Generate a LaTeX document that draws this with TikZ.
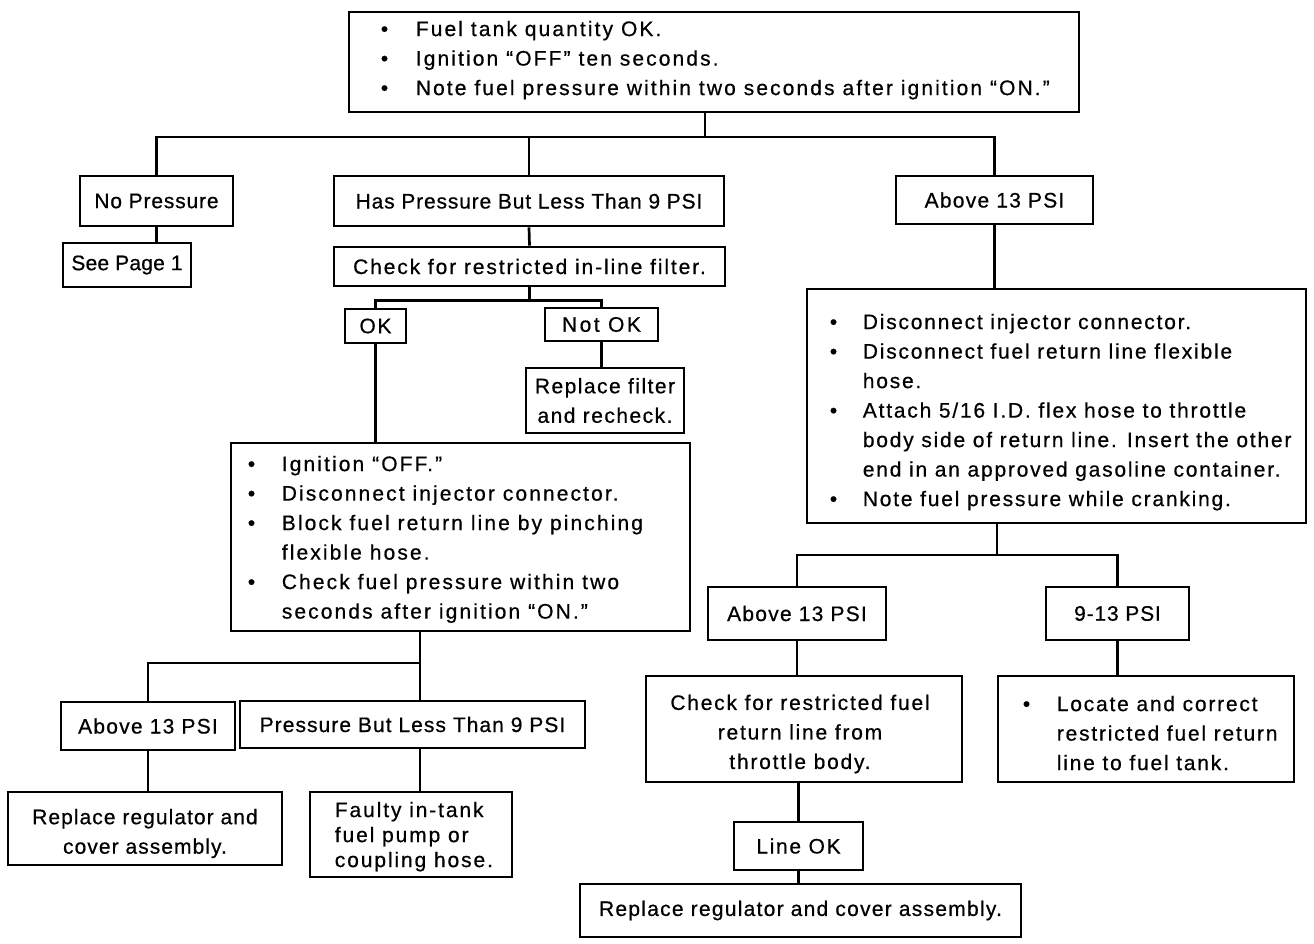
\documentclass[tikz,border=0pt]{standalone}
\usepackage{fontspec}
\setmainfont{Liberation Sans}[FakeBold=0.6]
\newcommand\bitem[2][34pt]{\makebox[#1][l]{\textbullet}#2}
\newcommand\cont[2][34pt]{\hspace*{#1}#2}
\begin{document}
\begin{tikzpicture}[x=1pt,y=-1pt,
  tracking/.style={font=\fontsize{21}{29.5}\selectfont\addfontfeature{LetterSpace=#1}},
  frame/.style={draw, line width=2.7pt, inner sep=0pt},
  box/.style={frame, align=center, tracking=7},
  txt/.style={inner sep=0pt, align=left, tracking=7},
  wire/.style={line width=2.7pt},
]
\useasboundingbox (0,0) rectangle (1314,943);

% ---- top level ----
\node[frame, minimum width=730pt, minimum height=100pt] (top) at (714,62) {};
\node[txt, tracking=10, anchor=north west] (toptxt) at ([xshift=33pt,yshift=-10pt]top.north west)
  {\bitem[35pt]{Fuel tank quantity OK.}\\
   \bitem[35pt]{Ignition ``OFF'' ten seconds.}\\
   \bitem[35pt]{Note fuel pressure within two seconds after ignition ``ON.''}};

\node[box, tracking=4, minimum width=153pt, minimum height=50pt] (np) at (156.5,201) {No Pressure};
\node[box, tracking=1, minimum width=128pt, minimum height=44pt] (sp) at (127,265) {See Page 1};
\node[box, tracking=4, minimum width=390pt, minimum height=50pt] (hp) at (529,201) {Has Pressure But Less Than 9 PSI};
\node[box, tracking=6, minimum width=197pt, minimum height=48pt] (ab) at (994.5,200) {Above 13 PSI};

% ---- low pressure branch ----
\node[box, tracking=9, minimum width=391pt, minimum height=39pt] (cf) at (529.5,266.5) {Check for restricted in-line filter.};
\node[box, tracking=8, minimum width=61pt, minimum height=34pt] (ok) at (375.5,326) {OK};
\node[box, tracking=12, minimum width=113pt, minimum height=33pt] (nok) at (601.5,324.5) {Not OK};
\node[box, minimum width=158pt, minimum height=65pt] (rf) at (605,400.5) {Replace filter\\and recheck.};

\node[frame, minimum width=459pt, minimum height=188pt] (ign) at (460.5,537) {};
\node[txt, tracking=10, anchor=north west] (igntxt) at ([xshift=18pt,yshift=-14pt]ign.north west)
  {\bitem{Ignition ``OFF.''}\\
   \bitem{Disconnect injector connector.}\\
   \bitem{Block fuel return line by pinching}\\
   \cont{flexible hose.}\\
   \bitem{Check fuel pressure within two}\\
   \cont{seconds after ignition ``ON.''}};

\coordinate (lb) at (420,663);
\node[box, tracking=6, minimum width=174pt, minimum height=48pt] (al) at (148,726) {Above 13 PSI};
\node[box, tracking=5, minimum width=345pt, minimum height=47pt] (pl) at (412.5,724.5) {Pressure But Less Than 9 PSI};
\node[frame, minimum width=274pt, minimum height=73pt] (rl) at (145,828.5) {};
\node[txt, tracking=5, align=center] (rltxt) at ([yshift=-5pt]rl.center)
  {Replace regulator and\\cover assembly.};
\node[frame, minimum width=202pt, minimum height=85pt] (fa) at (411,834.5) {};
\node[txt, anchor=north west, font=\fontsize{21}{25}\selectfont\addfontfeature{LetterSpace=9}]
  (fatxt) at ([xshift=26pt,yshift=-11pt]fa.north west)
  {Faulty in-tank\\fuel pump or\\coupling hose.};

% ---- high pressure branch ----
\node[frame, minimum width=499pt, minimum height=234pt] (big) at (1056.5,406) {};
\node[txt, tracking=8.5, anchor=north west] (bigtxt) at ([xshift=24pt,yshift=-26pt]big.north west)
  {\bitem[33pt]{Disconnect injector connector.}\\
   \bitem[33pt]{Disconnect fuel return line flexible}\\
   \cont[33pt]{hose.}\\
   \bitem[33pt]{Attach 5/16 I.D. flex hose to throttle}\\
   \cont[33pt]{body side of return line. Insert the other}\\
   \cont[33pt]{end in an approved gasoline container.}\\
   \bitem[33pt]{Note fuel pressure while cranking.}};

\coordinate (rb) at (997,555);
\node[box, tracking=6, minimum width=178pt, minimum height=53pt] (ar) at (797,613.5) {Above 13 PSI};
\node[box, tracking=4, minimum width=143pt, minimum height=53pt] (nt) at (1117.5,613.5) {9-13 PSI};
\node[frame, minimum width=316pt, minimum height=106pt] (cr) at (804,729) {};
\node[txt, tracking=8.5, align=center] (crtxt) at ([xshift=-4pt,yshift=-5pt]cr.center)
  {Check for restricted fuel\\return line from\\throttle body.};
\node[frame, minimum width=296pt, minimum height=106pt] (loc) at (1146,729) {};
\node[txt, tracking=8.5, anchor=north west] (loctxt) at ([xshift=26pt,yshift=-21pt]loc.north west)
  {\bitem[34pt]{Locate and correct}\\
   \cont[34pt]{restricted fuel return}\\
   \cont[34pt]{line to fuel tank.}};
\node[box, tracking=8, minimum width=129pt, minimum height=48pt] (lok) at (798.5,846) {Line OK};
\node[box, tracking=6, minimum width=441pt, minimum height=53pt] (rr) at (800.5,910.5) {Replace regulator and cover assembly.};

% ---- connectors ----
\coordinate (tb) at (705,137);
\draw[wire] (top.south -| tb) -- (tb);
\draw[wire] (np.north) |- (tb) -| (ab.north);
\draw[wire] (hp.north) -- (hp.north |- tb);
\draw[wire] (np.south) -- (np.south |- sp.north);
\draw[wire] (hp.south) -- (cf.north);
\draw[wire] (cf.south) -- ++(0,13) coordinate (fb);
\draw[wire] (ok.north) |- (fb) -| (nok.north);
\draw[wire] (nok.south) -- (nok.south |- rf.north);
\draw[wire] (ok.south) -- (ok.south |- ign.north);
\draw[wire] (ign.south -| lb) -- (lb);
\draw[wire] (al.north) |- (lb) -- (pl.north -| lb);
\draw[wire] (al.south) -- (al.south |- rl.north);
\draw[wire] (pl.south -| lb) -- (fa.north -| lb);
\draw[wire] (ab.south) -- (ab.south |- big.north);
\draw[wire] (big.south -| rb) -- (rb);
\draw[wire] (ar.north) |- (rb) -| (nt.north);
\draw[wire] (ar.south) -- (ar.south |- cr.north);
\draw[wire] (nt.south) -- (nt.south |- loc.north);
\draw[wire] (cr.south -| lok.north) -- (lok.north);
\draw[wire] (lok.south) -- (rr.north -| lok.south);
\end{tikzpicture}
\end{document}
